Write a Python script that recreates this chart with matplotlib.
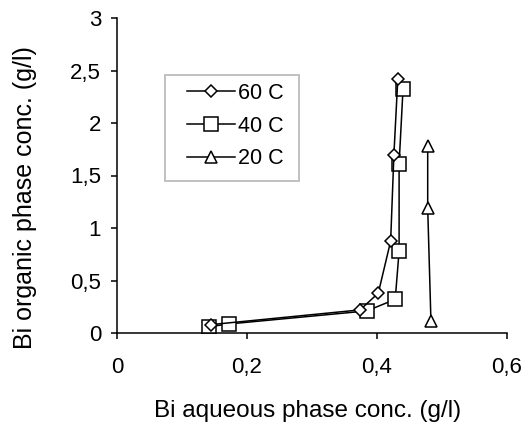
import matplotlib.pyplot as plt
from matplotlib.patches import Rectangle

plt.rcParams['font.family'] = ['Liberation Sans', 'DejaVu Sans']

# Bi extraction isotherms at three temperatures
aq_60 = [0.145, 0.374, 0.402, 0.421, 0.426, 0.432]
org_60 = [0.08, 0.22, 0.38, 0.875, 1.70, 2.42]

aq_40 = [0.142, 0.172, 0.384, 0.428, 0.434, 0.434, 0.440]
org_40 = [0.06, 0.086, 0.21, 0.32, 0.78, 1.61, 2.32]

aq_20 = [0.483, 0.478, 0.478]
org_20 = [0.11, 1.19, 1.78]

x_ticks = [0, 0.2, 0.4, 0.6]
y_ticks = [0, 0.5, 1, 1.5, 2, 2.5, 3]


def comma(v):
    return ("%g" % v).replace(".", ",")


W, H = 530, 428
fig = plt.figure(figsize=(W / 100, H / 100), dpi=100)
ax = fig.add_axes([117 / W, 1 - 333 / H, 390 / W, 315 / H])

style = dict(color="black", lw=1.1, mfc="white", mec="black", mew=1.1)
ax.plot(aq_60, org_60, marker="D", ms=6.5, label="60 C", zorder=3, **style)
ax.plot(aq_40, org_40, marker="s", ms=9.5, label="40 C", zorder=2, **style)
ax.plot(aq_20, org_20, marker="^", ms=9, label="20 C", zorder=2, **style)

ax.set_xlim(0, 0.6)
ax.set_ylim(0, 3)
ax.set_xticks(x_ticks)
ax.set_yticks(y_ticks)
ax.set_xticklabels([comma(v) for v in x_ticks])
ax.set_yticklabels([comma(v) for v in y_ticks])
ax.tick_params(direction="out", length=4.5, width=1.1, labelsize=16)
ax.tick_params(axis="y", pad=7)
ax.tick_params(axis="x", pad=13)

for side in ("top", "right"):
    ax.spines[side].set_visible(False)
for side in ("left", "bottom"):
    ax.spines[side].set_linewidth(1.1)

fig.text(307.5 / W, 1 - 411 / H, "Bi aqueous phase conc. (g/l)",
         fontsize=17.5, ha="center", va="center")
fig.text(25 / W, 1 - 197.5 / H, "Bi organic phase conc. (g/l)",
         fontsize=18, ha="center", va="center", rotation=90)

# legend box drawn separately so its padding can be uneven
ax.add_patch(Rectangle((165 / W, 1 - 181 / H), 134 / W, 106 / H,
                       transform=fig.transFigure, facecolor="white",
                       edgecolor="#c0c0c0", lw=1.4, zorder=4, clip_on=False))
leg = ax.legend(loc="upper left", bbox_to_anchor=(187 / W, 1 - 83 / H),
                bbox_transform=fig.transFigure, fontsize=15.5,
                frameon=False, handlelength=2.25, handletextpad=0.1,
                borderpad=0, borderaxespad=0, labelspacing=0.54)
leg.set_zorder(5)

fig.savefig("out.png", dpi=100)
